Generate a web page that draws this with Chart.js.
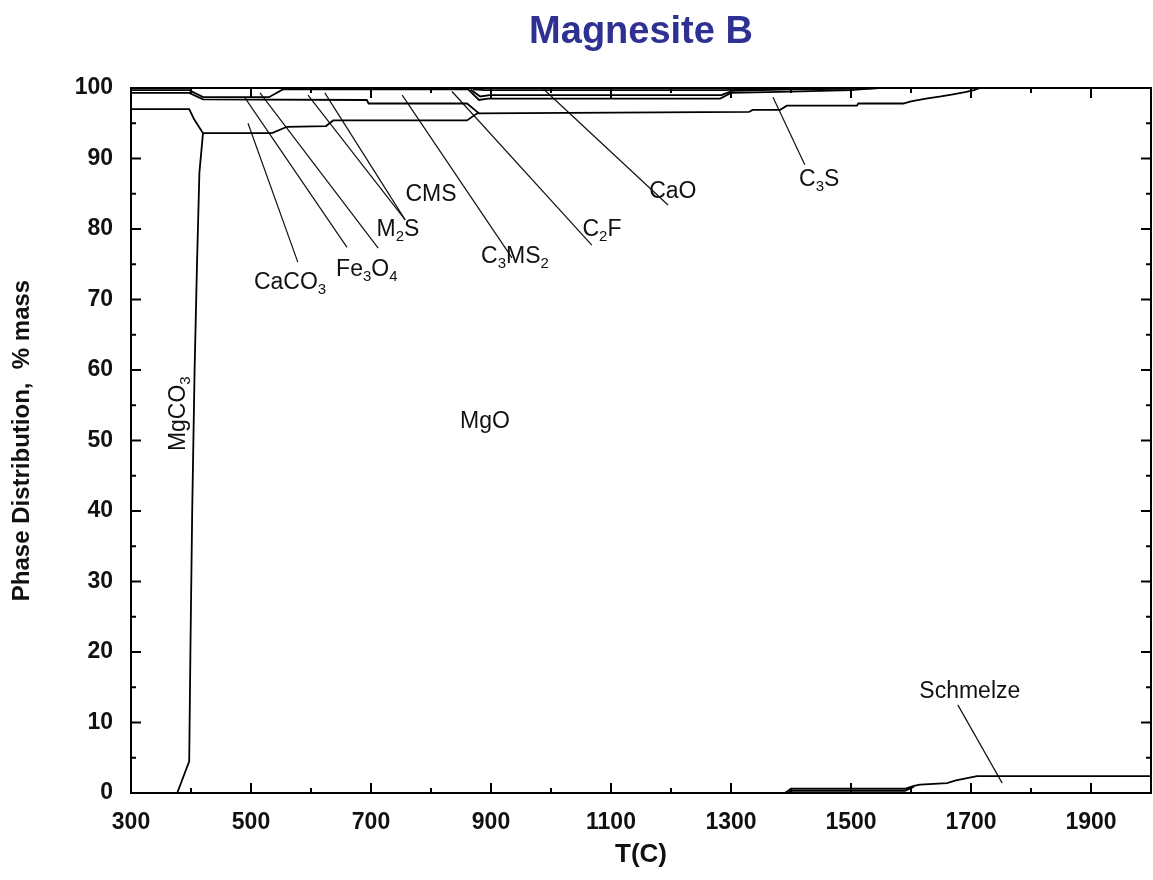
<!DOCTYPE html>
<html>
<head>
<meta charset="utf-8">
<title>Magnesite B</title>
<script src="https://cdn.jsdelivr.net/npm/chart.js@4"></script>
<style>
  body { margin: 0; background: #fff; }
  #wrap { width: 1153px; height: 880px; }
</style>
</head>
<body>
<div id="wrap"><canvas id="chart" width="1153" height="880"></canvas></div>
<script>
// Achsen
const xTickLabels = [300, 500, 700, 900, 1100, 1300, 1500, 1700, 1900];
const xMinorTicks = [400, 600, 800, 1000, 1200, 1400, 1600, 1800, 2000];
const yTickLabels = [0, 10, 20, 30, 40, 50, 60, 70, 80, 90, 100];
const yMinorTicks = [5, 15, 25, 35, 45, 55, 65, 75, 85, 95];

// Phasengrenzen (kumulativ), Punkte [T, %]
const mgco3Edge = [[377,0],[397,4.5],[399,20],[402,40],[406,60],[410,75],[414,88],[420,93.6]];
const mgoTop = [[300,97.0],[397,97.0],[405,95.6],[420,93.6],[535,93.6],[560,94.5],[625,94.6],[637,95.4],[860,95.4],[877,96.4],
  [1330,96.6],[1336,96.9],[1382,96.9],[1393,97.5],[1510,97.5],[1512,97.8],[1587,97.8],[1600,98.1],[1625,98.5],[1650,98.8],
  [1670,99.1],[1690,99.4],[1705,99.7],[1715,100],[2000,100]];
const caco3Top = [[300,99.3],[397,99.3],[420,98.4],[693,98.3],[696,97.8],[860,97.8],[880,96.4]];
const upperA = [[300,99.7],[397,99.7],[420,98.7],[530,98.7],[553,99.8],[862,99.8],[880,98.3],[895,98.5],[1282,98.5],
  [1300,99.3],[1400,99.5],[1500,99.7],[1530,99.9],[1545,100]];
const upperB = [[866,99.8],[882,98.8],[898,99.0],[1284,99.0],[1302,99.6],[1400,99.8],[1530,99.9],[1545,100]];
const upperC = [[870,99.8],[890,99.7],[1290,99.7],[1310,99.8],[1400,99.9],[1440,100]];
const schmelze = [[1390,0],[1400,0.6],[1590,0.6],[1605,1.0],[1615,1.2],[1660,1.4],[1675,1.8],[1710,2.4],[2000,2.4]];
const schmelze2 = [[1395,0],[1400,0.3],[1590,0.3],[1605,0.9]];

// Beschriftungen: Text ("_" = Index), Position [T, %]
const labelNames = ["CaCO_3", "Fe_3O_4", "M_2S", "CMS", "C_3MS_2", "C_2F", "CaO", "C_3S", "MgO", "Schmelze"];
const labelPos = [[565,72.6],[693,74.5],[745,80.1],[800,85.1],[940,76.3],[1085,80.1],[1203,85.5],[1447,87.2],[890,52.9],[1698,14.6]];
const mgco3Label = "MgCO_3";
const mgco3LabelPos = [377, 53.8];

// Hinweislinien [von, nach]
const leaders = [
  [[495,95.0],[578,75.3]],
  [[490,98.6],[660,77.4]],
  [[515,99.3],[712,77.3]],
  [[595,99.0],[757,81.3]],
  [[623,99.3],[757,81.3]],
  [[752,99.0],[935,75.9]],
  [[835,99.5],[1068,77.7]],
  [[987,99.9],[1195,83.4]],
  [[1370,98.7],[1423,89.1]],
  [[1678,12.5],[1752,1.4]]
];

const FONT = "'Liberation Sans', Arial, sans-serif";
const toXY = arr => arr.map(p => ({x: p[0], y: p[1]}));
const boundaryLines = [mgco3Edge, mgoTop, caco3Top, upperA, upperB, upperC, schmelze, schmelze2];

const datasets = boundaryLines.map(l => ({
  data: toXY(l), borderColor: "#000", borderWidth: 1.8, pointRadius: 0, tension: 0, fill: false
}));
leaders.forEach(l => datasets.push({
  data: toXY(l), borderColor: "#111", borderWidth: 1.2, pointRadius: 0, tension: 0, fill: false
}));

// Text mit tiefgestellten Ziffern
function drawRich(ctx, str, cx, cy){
  const parts = [];
  for (let i = 0; i < str.length; i++) {
    if (str[i] === "_") { parts.push({t: str[i+1], sub: true}); i++; }
    else parts.push({t: str[i], sub: false});
  }
  const big = "23px " + FONT, small = "15px " + FONT;
  let w = 0;
  parts.forEach(p => { ctx.font = p.sub ? small : big; p.w = ctx.measureText(p.t).width; w += p.w; });
  let x = cx - w/2;
  ctx.textAlign = "left"; ctx.textBaseline = "alphabetic";
  parts.forEach(p => {
    ctx.font = p.sub ? small : big;
    ctx.fillText(p.t, x, cy + 8 + (p.sub ? 5 : 0));
    x += p.w;
  });
}

const framePlugin = {
  id: "frameTicks",
  afterDatasetsDraw(chart){
    const {ctx, chartArea: a, scales: {x, y}} = chart;
    ctx.save();
    ctx.strokeStyle = "#000"; ctx.lineWidth = 2;
    ctx.strokeRect(a.left, a.top, a.right - a.left, a.bottom - a.top);
    const seg = (x1,y1,x2,y2) => { ctx.beginPath(); ctx.moveTo(x1,y1); ctx.lineTo(x2,y2); ctx.stroke(); };
    xTickLabels.forEach(v => { const p = x.getPixelForValue(v); seg(p, a.bottom, p, a.bottom-10); seg(p, a.top, p, a.top+10); });
    xMinorTicks.forEach(v => { const p = x.getPixelForValue(v); seg(p, a.bottom, p, a.bottom-5); seg(p, a.top, p, a.top+5); });
    yTickLabels.forEach(v => { const p = y.getPixelForValue(v); seg(a.left, p, a.left+10, p); seg(a.right, p, a.right-10, p); });
    yMinorTicks.forEach(v => { const p = y.getPixelForValue(v); seg(a.left, p, a.left+5, p); seg(a.right, p, a.right-5, p); });

    ctx.fillStyle = "#111";
    labelNames.forEach((n, i) => drawRich(ctx, n, x.getPixelForValue(labelPos[i][0]), y.getPixelForValue(labelPos[i][1])));
    ctx.save();
    ctx.translate(x.getPixelForValue(mgco3LabelPos[0]), y.getPixelForValue(mgco3LabelPos[1]));
    ctx.rotate(-Math.PI/2);
    drawRich(ctx, mgco3Label, 0, 0);
    ctx.restore();
    ctx.restore();
  }
};

new Chart(document.getElementById("chart"), {
  type: "line",
  data: { datasets },
  options: {
    responsive: false,
    animation: false,
    layout: { padding: { right: 2 } },
    plugins: {
      legend: { display: false },
      tooltip: { enabled: false },
      title: {
        display: true, text: "Magnesite B", color: "#2e3192", fullSize: false,
        font: { family: FONT, size: 38, weight: "bold" },
        padding: { top: 10, bottom: 32.4 }
      }
    },
    scales: {
      x: {
        type: "linear", min: 300, max: 2000,
        afterBuildTicks: s => { s.ticks = xTickLabels.map(v => ({value: v})); },
        afterFit: s => { s.height = 87; },
        grid: { display: false, drawTicks: false }, border: { display: false },
        ticks: { color: "#111", padding: 16, maxRotation: 0, autoSkip: false,
          callback: v => String(v),
          font: { family: FONT, size: 23, weight: "bold" } },
        title: { display: true, text: "T(C)", color: "#111", padding: { top: 10, bottom: 10 },
          font: { family: FONT, size: 26, weight: "bold" } }
      },
      y: {
        min: 0, max: 100,
        ticks: { stepSize: 10, color: "#111", padding: 18,
          font: { family: FONT, size: 23, weight: "bold" } },
        afterFit: s => { s.width = 131; },
        grid: { display: false, drawTicks: false }, border: { display: false },
        title: { display: true, text: "Phase Distribution,  % mass", color: "#111", padding: { top: 8, bottom: 8 },
          font: { family: FONT, size: 24, weight: "bold" } }
      }
    }
  },
  plugins: [framePlugin]
});
</script>
</body>
</html>
